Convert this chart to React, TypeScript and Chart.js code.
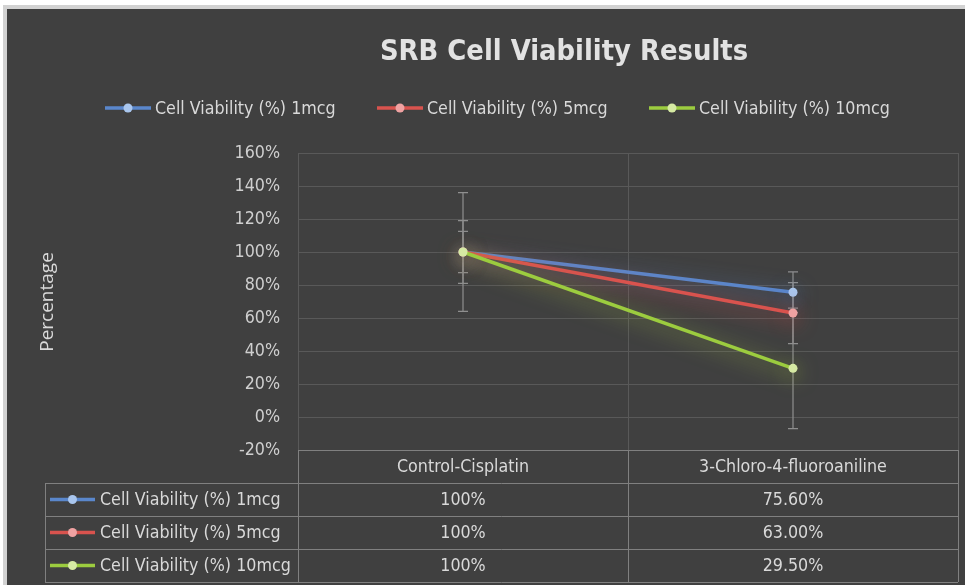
import React, { useEffect, useRef } from "react";
import { Chart, registerables } from "chart.js";

Chart.register(...registerables);

const chartTitle = "SRB Cell Viability Results";
const yAxisTitle = "Percentage";
const categories = ["Control-Cisplatin", "3-Chloro-4-fluoroaniline"];
const seriesNames = [
  "Cell Viability (%) 1mcg",
  "Cell Viability (%) 5mcg",
  "Cell Viability (%) 10mcg",
];
const viability1mcg = [1.0, 0.756];
const viability5mcg = [1.0, 0.63];
const viability10mcg = [1.0, 0.295];
const error1mcg = [0.125, 0.124];
const error5mcg = [0.19, 0.185];
const error10mcg = [0.36, 0.365];
const columnDecimals = [0, 2];
const yMin = -0.2;
const yMax = 1.6;
const yStep = 0.2;

const lineColors = ["#5a87cc", "#d9534e", "#9ccc3f"];
const markerColors = ["#a9c6ee", "#f0a2a2", "#d6eaa3"];
const glowColors = ["rgba(90,135,204,0.8)", "rgba(217,83,78,0.8)", "rgba(170,200,70,0.75)"];

const FONT = '"Liberation Sans Narrow", "DejaVu Sans Condensed", sans-serif';
const TEXT = "#d9d9d9";
const FS = 17.7;

function fmtCell(v: number, col: number) {
  return (v * 100).toFixed(columnDecimals[col]) + "%";
}

function drawLegendMarker(ctx: CanvasRenderingContext2D, x1: number, x2: number, y: number, i: number) {
  ctx.save();
  ctx.strokeStyle = lineColors[i];
  ctx.lineWidth = 3.5;
  ctx.beginPath();
  ctx.moveTo(x1, y);
  ctx.lineTo(x2, y);
  ctx.stroke();
  ctx.fillStyle = markerColors[i];
  ctx.beginPath();
  ctx.arc((x1 + x2) / 2, y, 4.5, 0, Math.PI * 2);
  ctx.fill();
  ctx.restore();
}

export default function App() {
  const ref = useRef<HTMLCanvasElement>(null);

  useEffect(() => {
    if (!ref.current) return;
    const seriesData = [viability1mcg, viability5mcg, viability10mcg];
    const seriesErr = [error1mcg, error5mcg, error10mcg];

    const errorBarsPlugin = {
      id: "errorBars",
      beforeDatasetsDraw(chart: any) {
        const ctx = chart.ctx;
        const xs = chart.scales.x;
        const ys = chart.scales.y;
        ctx.save();
        ctx.strokeStyle = "#8f8f8f";
        ctx.lineWidth = 1.2;
        seriesData.forEach((vals, si) => {
          vals.forEach((v, ci) => {
            const x = xs.getPixelForValue(ci);
            const e = seriesErr[si][ci];
            const yt = ys.getPixelForValue(v + e);
            const yb = ys.getPixelForValue(v - e);
            ctx.beginPath();
            ctx.moveTo(x, yt);
            ctx.lineTo(x, yb);
            ctx.moveTo(x - 5, yt);
            ctx.lineTo(x + 5, yt);
            ctx.moveTo(x - 5, yb);
            ctx.lineTo(x + 5, yb);
            ctx.stroke();
          });
        });
        ctx.restore();
      },
    };

    const glowPlugin = {
      id: "glow",
      beforeDatasetDraw(chart: any, args: any) {
        const ctx = chart.ctx;
        ctx.save();
        ctx.shadowColor = glowColors[args.index];
        ctx.shadowBlur = 20;
        ctx.shadowOffsetY = 4;
      },
      afterDatasetDraw(chart: any) {
        chart.ctx.restore();
      },
    };

    const overlayPlugin = {
      id: "overlay",
      afterDraw(chart: any) {
        const ctx = chart.ctx as CanvasRenderingContext2D;
        const xs = chart.scales.x;
        const area = chart.chartArea;
        ctx.save();
        // title
        ctx.fillStyle = "#e2e2e2";
        ctx.font = `bold 28.8px ${FONT}`;
        ctx.textAlign = "center";
        ctx.textBaseline = "middle";
        ctx.fillText(chartTitle, 564, 53);

        // legend
        ctx.font = `${FS}px ${FONT}`;
        ctx.textAlign = "left";
        ctx.fillStyle = TEXT;
        const legendX = [105, 377, 649];
        seriesNames.forEach((n, i) => {
          drawLegendMarker(ctx, legendX[i], legendX[i] + 46, 108, i);
          ctx.fillStyle = TEXT;
          ctx.fillText(n, legendX[i] + 50, 109);
        });

        // y title
        ctx.save();
        ctx.translate(48, 302);
        ctx.rotate(-Math.PI / 2);
        ctx.font = '19px "Open Sans", sans-serif';
        ctx.textAlign = "center";
        ctx.fillStyle = TEXT;
        ctx.fillText(yAxisTitle, 0, 0);
        ctx.restore();

        // data table
        const top = area.bottom;
        const rowH = 33;
        const left = 45;
        const right = area.right;
        const mid = (xs.getPixelForValue(0) + xs.getPixelForValue(1)) / 2;
        ctx.strokeStyle = "#808080";
        ctx.lineWidth = 1;
        const hl = (x1: number, x2: number, y: number) => {
          ctx.beginPath();
          ctx.moveTo(x1, Math.round(y) + 0.5);
          ctx.lineTo(x2, Math.round(y) + 0.5);
          ctx.stroke();
        };
        const vl = (x: number, y1: number, y2: number) => {
          ctx.beginPath();
          ctx.moveTo(Math.round(x) + 0.5, y1);
          ctx.lineTo(Math.round(x) + 0.5, y2);
          ctx.stroke();
        };
        hl(area.left, right, top);
        for (let r = 1; r <= 4; r++) hl(left, right, top + rowH * r);
        vl(area.left, top, top + rowH * 4);
        vl(mid, top, top + rowH * 4);
        vl(right, top, top + rowH * 4);
        vl(left, top + rowH, top + rowH * 4);

        ctx.font = `${FS}px ${FONT}`;
        ctx.fillStyle = TEXT;
        ctx.textAlign = "center";
        categories.forEach((c, ci) => {
          ctx.fillText(c, xs.getPixelForValue(ci), top + rowH / 2 + 1);
        });
        seriesNames.forEach((n, si) => {
          const yc = top + rowH * (si + 1) + rowH / 2;
          drawLegendMarker(ctx, left + 5, left + 50, yc, si);
          ctx.fillStyle = TEXT;
          ctx.textAlign = "left";
          ctx.fillText(n, left + 55, yc + 1);
          ctx.textAlign = "center";
          seriesData[si].forEach((v, ci) => {
            ctx.fillText(fmtCell(v, ci), xs.getPixelForValue(ci), yc + 1);
          });
        });
        ctx.restore();
      },
    };

    const chart = new Chart(ref.current, {
      type: "line",
      data: {
        labels: categories,
        datasets: seriesNames.map((n, i) => ({
          label: n,
          data: [viability1mcg, viability5mcg, viability10mcg][i],
          order: 2 - i,
          borderColor: lineColors[i],
          backgroundColor: markerColors[i],
          pointBackgroundColor: markerColors[i],
          pointBorderColor: markerColors[i],
          pointRadius: 4.5,
          pointBorderWidth: 0,
          borderWidth: 3.5,
          tension: 0,
          fill: false,
        })),
      },
      options: {
        responsive: false,
        animation: false,
        devicePixelRatio: 1,
        layout: { padding: { left: 0, top: 153, right: 7, bottom: 135 } },
        plugins: {
          legend: { display: false },
          title: { display: false },
          tooltip: { enabled: false },
        },
        scales: {
          x: {
            type: "category",
            offset: true,
            grid: { color: "#595959", offset: true, drawTicks: false, lineWidth: 1 },
            border: { display: false },
            ticks: { display: false },
            afterFit: (s: any) => {
              s.height = 0;
            },
          },
          y: {
            min: yMin,
            max: yMax,
            grid: { color: "#595959", drawTicks: false, lineWidth: 1 },
            border: { display: false },
            ticks: {
              stepSize: yStep,
              padding: 18,
              color: "#cfcfcf",
              font: { family: FONT, size: FS },
              callback: (v: any) => Math.round(Number(v) * 100) + "%",
            },
            afterFit: (s: any) => {
              s.width = 298;
            },
          },
        },
      },
      plugins: [errorBarsPlugin, glowPlugin, overlayPlugin],
    } as any);
    return () => chart.destroy();
  }, []);

  return (
    <div style={{ position: "fixed", left: 0, top: 0, width: 965, height: 585, background: "#ffffff", overflow: "hidden" }}>
      <div style={{ position: "absolute", left: 3, top: 5, width: 962, height: 580, background: "#d2d2d2" }} />
      <div style={{ position: "absolute", left: 7, top: 9, width: 958, height: 576, background: "#404040" }} />
      <canvas ref={ref} width={965} height={585} style={{ position: "absolute", left: 0, top: 0, width: 965, height: 585 }} />
    </div>
  );
}
